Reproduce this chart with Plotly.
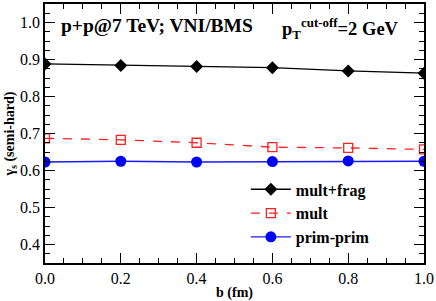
import plotly.graph_objects as go

b = [0.0, 0.2, 0.4, 0.6, 0.8, 1.0]
mult_frag = [0.888, 0.884, 0.881, 0.878, 0.869, 0.863]
mult = [0.687, 0.683, 0.675, 0.663, 0.661, 0.657]
prim_prim = [0.623, 0.625, 0.623, 0.624, 0.626, 0.625]

FONT = "Liberation Serif"

fig = go.Figure()
fig.add_trace(go.Scatter(x=b, y=mult_frag, mode="lines+markers", name="<b>mult+frag</b>",
                         legendgroup="a",
                         line=dict(color="black", width=1.3),
                         marker=dict(symbol="diamond", size=10, color="black")))
fig.add_trace(go.Scatter(x=b, y=mult, mode="lines+markers", name="<b>mult</b>",
                         legendgroup="b",
                         line=dict(color="#ff2020", width=1.3, dash="dash"),
                         marker=dict(symbol="square-open", size=9, color="#ff2020", line=dict(width=1.3))))
fig.add_trace(go.Scatter(x=b, y=prim_prim, mode="lines+markers", name="<b>prim-prim</b>",
                         legendgroup="c",
                         line=dict(color="#1a1aff", width=1.3),
                         marker=dict(symbol="circle", size=11, color="#0000ff")))

fig.update_xaxes(range=[0, 1.0], dtick=0.2, tickformat=".1f",
                 showline=True, linecolor="black", linewidth=1.5, mirror="allticks",
                 ticks="inside", ticklen=10, tickwidth=1.2, tickcolor="black",
                 showgrid=False, zeroline=False,
                 tickfont_family=FONT, tickfont_size=16, tickfont_color="black",
                 minor=dict(ticks="inside", ticklen=5, dtick=0.05, tickcolor="black", tickwidth=1),
                 title_text="<b>b (fm)</b>", title_font_family=FONT, title_font_size=14,
                 title_font_color="black", title_standoff=2)
fig.update_yaxes(range=[0.35, 1.05], dtick=0.1, tickformat=".1f",
                 showline=True, linecolor="black", linewidth=1.5, mirror="allticks",
                 ticks="inside", ticklen=10, tickwidth=1.2, tickcolor="black",
                 showgrid=False, zeroline=False,
                 tickfont_family=FONT, tickfont_size=16, tickfont_color="black",
                 minor=dict(ticks="inside", ticklen=5, dtick=0.025, tickcolor="black", tickwidth=1),
                 title_text="<b>γ<sub>s</sub> (semi-hard)</b>", title_font_family=FONT, title_font_size=14,
                 title_font_color="black", title_standoff=2)

fig.add_annotation(x=0.038, y=1.0, xref="paper", yref="paper", xanchor="left", yanchor="top",
                   yshift=-9, showarrow=False,
                   text="<b>p+p@7 TeV; VNI/BMS</b>", font=dict(family=FONT, size=19.5, color="black"))
fig.add_annotation(x=0.94, y=1.0, xref="paper", yref="paper", xanchor="right", yanchor="top",
                   yshift=-9, showarrow=False,
                   text="<b>p<sub>T</sub><sup>cut-off</sup>=2 GeV</b>", font=dict(family=FONT, size=18.5, color="black"))

fig.update_layout(width=436, height=301,
                  margin=dict(l=45, r=11, t=2, b=34),
                  font=dict(family=FONT, color="black"),
                  plot_bgcolor="white", paper_bgcolor="white",
                  showlegend=True,
                  legend=dict(x=0.53, y=0.35, xanchor="left", yanchor="top",
                              bgcolor="rgba(0,0,0,0)", itemwidth=40, tracegroupgap=0,
                              font=dict(family=FONT, size=16, color="black")))

fig.write_html("out.html", config={"displayModeBar": False},
               post_script="document.body.style.margin='0';document.body.style.overflow='hidden';")
